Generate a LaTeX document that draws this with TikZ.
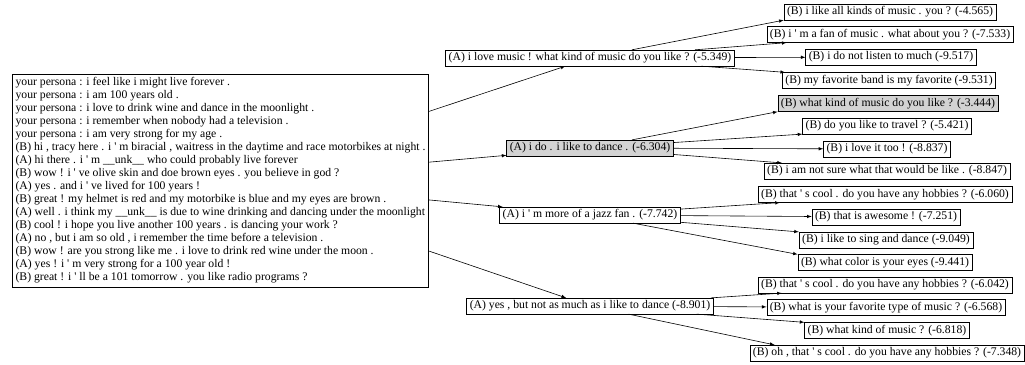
\documentclass[tikz,border=0pt]{standalone}
\usepackage{fontspec}
\setmainfont{Liberation Serif}
\usepackage{tikz}
\usetikzlibrary{arrows}
\definecolor{beamgray}{RGB}{211,211,211}
\newcommand{\qt}{\textquotesingle}
\newcommand{\unk}{\_\_unk\_\_}
\tikzset{every picture/.style={semithick}}
\tikzset{utt/.style={draw, rectangle, inner xsep=3pt, inner ysep=2.5pt, font=\fontsize{11.7}{13}\selectfont}}
\tikzset{best/.style={utt, fill=beamgray}}
\tikzset{every path/.style={>=latex}}

\begin{document}
\begin{tikzpicture}[x=1pt, y=-1pt]
\useasboundingbox (0,0) rectangle (1025,364);
\node[utt, align=left, inner ysep=3.5pt] (root) at (220.5,180.5) {%
your persona : i feel like i might live forever .\\
your persona : i am 100 years old .\\
your persona : i love to drink wine and dance in the moonlight .\\
your persona : i remember when nobody had a television .\\
your persona : i am very strong for my age .\\
(B) hi , tracy here . i \qt{} m biracial , waitress in the daytime and race motorbikes at night .\\
(A) hi there . i \qt{} m \unk{} who could probably live forever\\
(B) wow ! i \qt{} ve olive skin and doe brown eyes . you believe in god ?\\
(A) yes . and i \qt{} ve lived for 100 years !\\
(B) great ! my helmet is red and my motorbike is blue and my eyes are brown .\\
(A) well . i think my \unk{} is due to wine drinking and dancing under the moonlight\\
(B) cool ! i hope you live another 100 years . is dancing your work ?\\
(A) no , but i am so old , i remember the time before a television .\\
(B) wow ! are you strong like me . i love to drink red wine under the moon .\\
(A) yes ! i \qt{} m very strong for a 100 year old !\\
(B) great ! i \qt{} ll be a 101 tomorrow . you like radio programs ?};

\node[utt] (a1) at (590,58) {(A) i love music ! what kind of music do you like ? (-5.349)};
\node[best] (a2) at (590,148) {(A) i do . i like to dance . (-6.304)};
\node[utt] (a3) at (590,215) {(A) i \qt{} m more of a jazz fan . (-7.742)};
\node[utt] (a4) at (590,306) {(A) yes , but not as much as i like to dance (-8.901)};

\node[utt] (b1) at (890,12) {(B) i like all kinds of music . you ? (-4.565)};
\node[utt] (b2) at (890,34.5) {(B) i \qt{} m a fan of music . what about you ? (-7.533)};
\node[utt] (b3) at (891,57) {(B) i do not listen to much (-9.517)};
\node[utt] (b4) at (889,80.5) {(B) my favorite band is my favorite (-9.531)};
\node[best] (b5) at (888,103.5) {(B) what kind of music do you like ? (-3.444)};
\node[utt] (b6) at (887,126) {(B) do you like to travel ? (-5.421)};
\node[utt] (b7) at (887,149) {(B) i love it too ! (-8.837)};
\node[utt] (b8) at (887,171) {(B) i am not sure what that would be like . (-8.847)};
\node[utt] (b9) at (885,194.5) {(B) that \qt{} s cool . do you have any hobbies ? (-6.060)};
\node[utt] (b10) at (886,217) {(B) that is awesome ! (-7.251)};
\node[utt] (b11) at (886,240) {(B) i like to sing and dance (-9.049)};
\node[utt] (b12) at (885,262.5) {(B) what color is your eyes (-9.441)};
\node[utt] (b13) at (885,285) {(B) that \qt{} s cool . do you have any hobbies ? (-6.042)};
\node[utt] (b14) at (886,307.5) {(B) what is your favorite type of music ? (-6.568)};
\node[utt] (b15) at (887,330.5) {(B) what kind of music ? (-6.818)};
\node[utt] (b16) at (887,353) {(B) oh , that \qt{} s cool . do you have any hobbies ? (-7.348)};

\foreach \a in {1,...,4}
  \draw[->] (root) -- (a\a);
% replies: the heads sit near the left end of each box
\draw[->] (a1) -- (b1.south west);
\draw[->] (a1) -- ([xshift=20pt]b2.south west);
\draw[->] (a1) -- (b3);
\draw[->] (a1) -- ([xshift=3pt]b4.north west);
\draw[->] (a2) -- (b5.south west);
\draw[->] (a2) -- (b6.south west);
\draw[->] (a2) -- (b7);
\draw[->] (a2) -- ([xshift=18pt]b8.north west);
\draw[->] (a3) -- ([xshift=22pt]b9.south west);
\draw[->] (a3) -- (b10);
\draw[->] (a3) -- (b11.north west);
\draw[->] (a3) -- (b12.north west);
\draw[->] (a4) -- ([xshift=24pt]b13.south west);
\draw[->] (a4) -- (b14);
\draw[->] (a4) -- (b15.north west);
\draw[->] (a4) -- ([xshift=25pt]b16.north west);
\end{tikzpicture}
\end{document}
